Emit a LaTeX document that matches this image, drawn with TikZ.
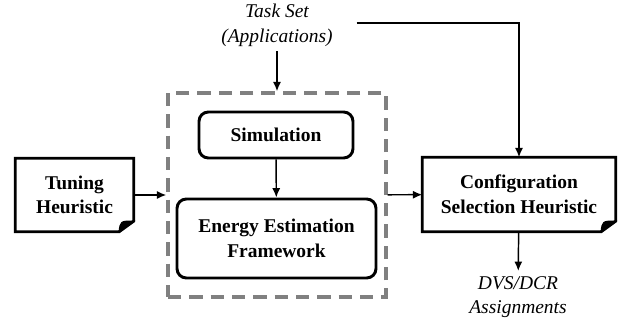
\documentclass[tikz,border=0pt]{standalone}
\usepackage{fontspec}
\setmainfont{Liberation Serif}
\usetikzlibrary{arrows.meta}
\usetikzlibrary{positioning}
\definecolor{framegray}{RGB}{128,128,128}

% box with a turned-down lower right corner
\newcommand{\dogear}[1]{%
  \draw[-, line width=2.2pt, line join=miter] (#1.north west) -- (#1.north east)
    -- ([yshift=8pt]#1.south east) -- ([xshift=-11pt]#1.south east)
    -- (#1.south west) -- cycle;
  \filldraw[-, line width=0.8pt] ([yshift=8pt]#1.south east)
    .. controls ([xshift=-10pt,yshift=8pt]#1.south east) .. ([xshift=-11pt]#1.south east) -- cycle;
}

\begin{document}
\begin{tikzpicture}[-{Latex[length=7pt,width=6pt]}, x=0.75pt, y=-0.75pt, line width=1.1pt,
    font=\fontsize{14.6}{18.5}\selectfont,
    box/.style={draw, -, rounded corners=7pt, line width=2.2pt, align=center,
      font=\fontsize{14.6}{18.5}\selectfont\bfseries, inner sep=0pt},
    heur/.style={align=center, font=\fontsize{14.6}{18.5}\selectfont\bfseries, inner sep=0pt},
    group/.style={draw=framegray, -, dash pattern=on 10pt off 6pt, line width=2.6pt,
      inner sep=0pt},
    note/.style={align=center, font=\fontsize{14.6}{18.5}\selectfont\itshape}]

    \useasboundingbox (0,0) rectangle (633,329);

    \node[group, minimum width=163.5pt, minimum height=153pt] (frame) at (277,195) {};
    \node[box, minimum width=115.5pt, minimum height=34.5pt] (sim) at (276,135) {Simulation};
    \node[box, minimum width=149.25pt, minimum height=59.25pt] (energy) at (276.5,238.5)
      {Energy Estimation\\Framework};

    \node[heur, minimum width=87.75pt, minimum height=54pt] (tuning) at (74.5,195)
      {Tuning\\Heuristic};
    \node[heur, minimum width=144pt, minimum height=54.75pt] (config) at (519,194.5)
      {Configuration\\Selection Heuristic};
    \dogear{tuning}
    \dogear{config}

    \node[note] (tasks) at (277,25) {Task Set\\(Applications)};
    \node[note] (dvs) at (518,297) {DVS/DCR\\Assignments};

    \draw (tasks) -- (frame);
    \draw (sim) -- (energy);
    \draw (tuning) -- (frame);
    \draw (frame) -- (config);
    \draw ([xshift=14pt,yshift=1.5pt]tasks.east) -| (config.north);
    \draw (config) -- (dvs);
  \end{tikzpicture}
\end{document}
